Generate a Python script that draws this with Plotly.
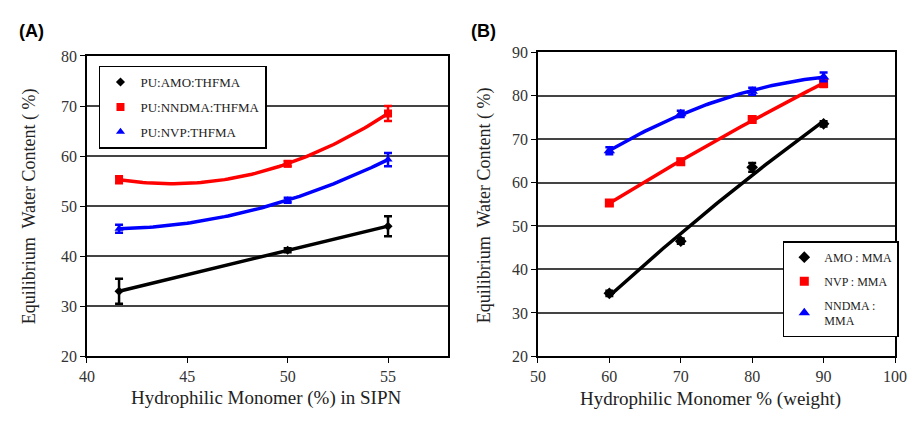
import numpy as np
import plotly.graph_objects as go

# ---------------- data ----------------
# Panel A
a_x = [41.6, 50, 55]
a_amo = [33.0, 41.2, 46.0]
a_amo_err = [2.5, 0.4, 2.0]
a_nndma = [55.3, 58.5, 68.5]
a_nndma_err = [0.7, 0.5, 1.5]
a_nvp = [45.5, 51.2, 59.3]
a_nvp_err = [0.8, 0.5, 1.3]

# Panel B
b_x = [60, 70, 80, 90]
b_amo = [34.5, 46.5, 63.5, 73.5]
b_amo_err = [0.6, 0.6, 1.0, 0.6]
b_nvp = [55.3, 64.8, 74.5, 82.8]
b_nvp_err = [0.5, 0.6, 0.6, 0.8]
b_nndma = [67.3, 75.8, 81.0, 84.3]
b_nndma_err = [0.8, 0.7, 0.8, 1.0]

BLACK, RED, BLUE = "#000000", "#ff0000", "#0000ff"
SERIF = "Liberation Serif"

fig = go.Figure()


def trend(x, y, deg):
    c = np.polyfit(x, y, deg)
    xs = np.linspace(min(x), max(x), 80)
    return xs, np.polyval(c, xs)


def add_series(x, y, err, name, color, symbol, size, xa, ya, legend, deg):
    xs, ys = trend(x, y, deg)
    fig.add_trace(go.Scatter(x=xs, y=ys, mode="lines", line=dict(color=color, width=3.5),
                             showlegend=False, hoverinfo="skip", xaxis=xa, yaxis=ya))
    fig.add_trace(go.Scatter(x=x, y=y, mode="markers", name=name,
                             marker=dict(color=color, symbol=symbol, size=size),
                             error_y=dict(type="data", array=err, color=color, thickness=2.5, width=4),
                             xaxis=xa, yaxis=ya, legend=legend, legendgroup=name))


add_series(a_x, a_amo, a_amo_err, "PU:AMO:THFMA", BLACK, "diamond", 7, "x", "y", "legend", 1)
add_series(a_x, a_nndma, a_nndma_err, "PU:NNDMA:THFMA", RED, "square", 8, "x", "y", "legend", 2)
add_series(a_x, a_nvp, a_nvp_err, "PU:NVP:THFMA", BLUE, "triangle-up", 8, "x", "y", "legend", 2)

add_series(b_x, b_amo, b_amo_err, "AMO : MMA", BLACK, "diamond", 9, "x2", "y2", "legend2", 2)
add_series(b_x, b_nvp, b_nvp_err, "NVP : MMA", RED, "square", 9, "x2", "y2", "legend2", 2)
add_series(b_x, b_nndma, b_nndma_err, "NNDMA :<br>MMA", BLUE, "triangle-up", 10, "x2", "y2", "legend2", 2)

W, H = 921, 422
ax_common = dict(showline=True, linecolor="black", linewidth=1.5, mirror=True,
                 ticks="outside", ticklen=5, tickcolor="black", tickwidth=1.2,
                 tickfont=dict(family=SERIF, size=16, color="#333333"), zeroline=False)

fig.update_layout(
    width=W, height=H, autosize=False,
    margin=dict(l=0, r=0, t=0, b=0),
    paper_bgcolor="white", plot_bgcolor="white",
    showlegend=True,
    xaxis=dict(domain=[80.7 / W, 450 / W], range=[40, 58], tick0=40, dtick=5,
               showgrid=False, anchor="y", **ax_common),
    yaxis=dict(domain=[1 - 363 / H, 1 - 50 / H], range=[20, 80], dtick=10,
               showgrid=True, gridcolor="#444444", gridwidth=1.5, anchor="x", **ax_common),
    xaxis2=dict(domain=[541.7 / W, 906.7 / W], range=[50, 100], tick0=50, dtick=10,
                showgrid=False, anchor="y2", **ax_common),
    yaxis2=dict(domain=[1 - 363 / H, 1 - 46 / H], range=[20, 90], dtick=10,
                showgrid=True, gridcolor="#444444", gridwidth=1.5, anchor="x2", **ax_common),
    legend=dict(x=93 / W, y=1 - 60 / H, xanchor="left", yanchor="top",
                bgcolor="white", bordercolor="black", borderwidth=1.5,
                font=dict(family=SERIF, size=13, color="#222222"),
                tracegroupgap=5, itemwidth=30),
    legend2=dict(x=792 / W, y=1 - 243 / H, xanchor="left", yanchor="top",
                 bgcolor="white", bordercolor="black", borderwidth=1.5,
                 font=dict(family=SERIF, size=12, color="#222222"),
                 tracegroupgap=5, itemwidth=30),
    annotations=[
        dict(text="<b>(A)</b>", x=9 / W, y=1 - 24 / H, xref="paper", yref="paper",
             xanchor="left", yanchor="middle", showarrow=False,
             font=dict(family="Liberation Sans", size=18, color="black")),
        dict(text="<b>(B)</b>", x=471 / W, y=1 - 24 / H, xref="paper", yref="paper",
             xanchor="left", yanchor="middle", showarrow=False,
             font=dict(family="Liberation Sans", size=18, color="black")),
        dict(text="Hydrophilic Monomer (%) in SIPN", x=264 / W, y=1 - 406 / H,
             xref="paper", yref="paper", xanchor="center", yanchor="middle", showarrow=False,
             font=dict(family=SERIF, size=19, color="#222222")),
        dict(text="Hydrophilic Monomer % (weight)", x=718 / W, y=1 - 407 / H,
             xref="paper", yref="paper", xanchor="center", yanchor="middle", showarrow=False,
             font=dict(family=SERIF, size=19, color="#222222")),
        dict(text="Equilibrium  Water Content ( %)", x=22 / W, y=1 - 207 / H,
             xref="paper", yref="paper", xanchor="center", yanchor="middle", showarrow=False,
             textangle=-90, font=dict(family=SERIF, size=18, color="#222222")),
        dict(text="Equilibrium  Water Content ( %)", x=487 / W, y=1 - 205 / H,
             xref="paper", yref="paper", xanchor="center", yanchor="middle", showarrow=False,
             textangle=-90, font=dict(family=SERIF, size=18, color="#222222")),
    ],
)

fig.write_html("out.html", config={"displayModeBar": False},
               post_script="document.body.style.margin='0';")
